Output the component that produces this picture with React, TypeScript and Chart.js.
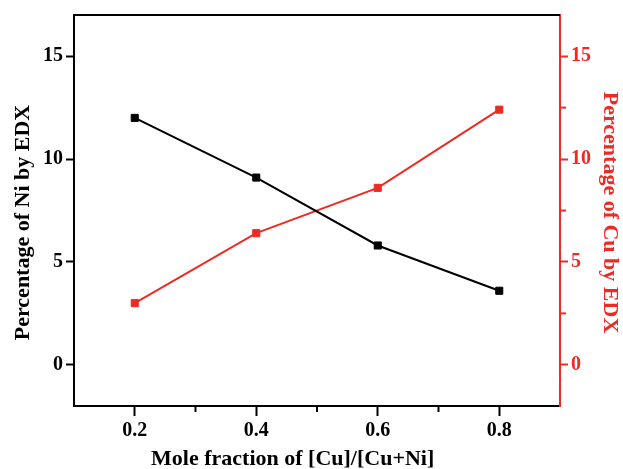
import React, { useEffect, useRef } from "react";
import { Chart, registerables } from "chart.js";

Chart.register(...registerables);

const moleFraction = [0.2, 0.4, 0.6, 0.8];
const niPercent = [12.0, 9.1, 5.8, 3.6];
const cuPercent = [3.0, 6.4, 8.6, 12.4];
const xTicks = [0.2, 0.4, 0.6, 0.8];
const xMinorTicks = [0.3, 0.5, 0.7];
const yTicks = [0, 5, 10, 15];
const yRightMinorTicks = [2.5, 7.5, 12.5];

const RED = "#ee2a24";
const FONT = "'Liberation Serif', 'Times New Roman', serif";

const framePlugin = {
  id: "frame",
  afterDraw(chart: any) {
    const { ctx, chartArea, scales } = chart;
    const { left, right, top, bottom } = chartArea;
    const line = (x1: number, y1: number, x2: number, y2: number) => {
      ctx.beginPath();
      ctx.moveTo(x1, y1);
      ctx.lineTo(x2, y2);
      ctx.stroke();
    };
    ctx.save();
    ctx.lineWidth = 2;
    ctx.strokeStyle = "#000";
    line(left - 1, top, right, top);
    xMinorTicks.forEach((v) => {
      const px = scales.x.getPixelForValue(v);
      line(px, bottom, px, bottom + 6);
    });
    ctx.strokeStyle = RED;
    yRightMinorTicks.forEach((v) => {
      const py = scales.y1.getPixelForValue(v);
      line(right, py, right + 6, py);
    });
    // axis titles
    ctx.font = `bold 22px ${FONT}`;
    ctx.textAlign = "center";
    ctx.textBaseline = "alphabetic";
    ctx.fillStyle = "#000";
    ctx.fillText("Mole fraction of [Cu]/[Cu+Ni]", left + (right - left) * 0.45, 465);
    ctx.save();
    ctx.translate(29, (top + bottom) / 2 + 12);
    ctx.rotate(-Math.PI / 2);
    ctx.fillText("Percentage of Ni by EDX", 0, 0);
    ctx.restore();
    ctx.save();
    ctx.fillStyle = RED;
    ctx.translate(604, (top + bottom) / 2 + 2);
    ctx.rotate(Math.PI / 2);
    ctx.fillText("Percentage of Cu by EDX", 0, 0);
    ctx.restore();
    ctx.restore();
  },
};

export default function App() {
  const ref = useRef<HTMLCanvasElement | null>(null);
  useEffect(() => {
    if (!ref.current) return;
    const tickFont = { family: FONT, size: 20, weight: "bold" as const };
    const chart = new Chart(ref.current, {
      type: "line",
      data: {
        datasets: [
          {
            label: "Ni",
            data: moleFraction.map((x, i) => ({ x, y: niPercent[i] })),
            borderColor: "#000",
            backgroundColor: "#000",
            borderWidth: 2,
            pointStyle: "rect",
            pointRadius: 5,
            pointBorderWidth: 1,
            yAxisID: "y",
          },
          {
            label: "Cu",
            data: moleFraction.map((x, i) => ({ x, y: cuPercent[i] })),
            borderColor: RED,
            backgroundColor: RED,
            borderWidth: 2,
            pointStyle: "rect",
            pointRadius: 5,
            pointBorderWidth: 1,
            yAxisID: "y1",
          },
        ],
      },
      options: {
        responsive: false,
        animation: false,
        layout: { padding: { top: 15, left: 0, right: 0, bottom: 0 } },
        plugins: { legend: { display: false }, tooltip: { enabled: false } },
        scales: {
          x: {
            type: "linear",
            min: 0.1,
            max: 0.9,
            afterBuildTicks: (s: any) => {
              s.ticks = xTicks.map((v) => ({ value: v }));
            },
            afterFit: (s: any) => {
              s.height = 63;
            },
            border: { color: "#000", width: 2 },
            grid: { drawOnChartArea: false, tickLength: 10, tickColor: "#000", tickWidth: 2 },
            ticks: { color: "#000", font: tickFont, padding: 3, callback: (v: any) => Number(v).toFixed(1) },
          },
          y: {
            type: "linear",
            position: "left",
            min: -2,
            max: 17,
            afterBuildTicks: (s: any) => {
              s.ticks = yTicks.map((v) => ({ value: v }));
            },
            afterFit: (s: any) => {
              s.width = 74;
            },
            border: { color: "#000", width: 2 },
            grid: { drawOnChartArea: false, tickLength: 8, tickColor: "#000", tickWidth: 2 },
            ticks: { color: "#000", font: tickFont, padding: 3 },
          },
          y1: {
            type: "linear",
            position: "right",
            min: -2,
            max: 17,
            afterBuildTicks: (s: any) => {
              s.ticks = yTicks.map((v) => ({ value: v }));
            },
            afterFit: (s: any) => {
              s.width = 63;
            },
            border: { color: RED, width: 2 },
            grid: { drawOnChartArea: false, tickLength: 8, tickColor: RED, tickWidth: 2 },
            ticks: { color: RED, font: tickFont, padding: 3 },
          },
        },
      },
      plugins: [framePlugin],
    });
    return () => chart.destroy();
  }, []);
  return (
    <div style={{ position: "absolute", left: 0, top: 0, width: 623, height: 469, background: "#fff" }}>
      <canvas ref={ref} width={623} height={469} style={{ display: "block" }} />
    </div>
  );
}
